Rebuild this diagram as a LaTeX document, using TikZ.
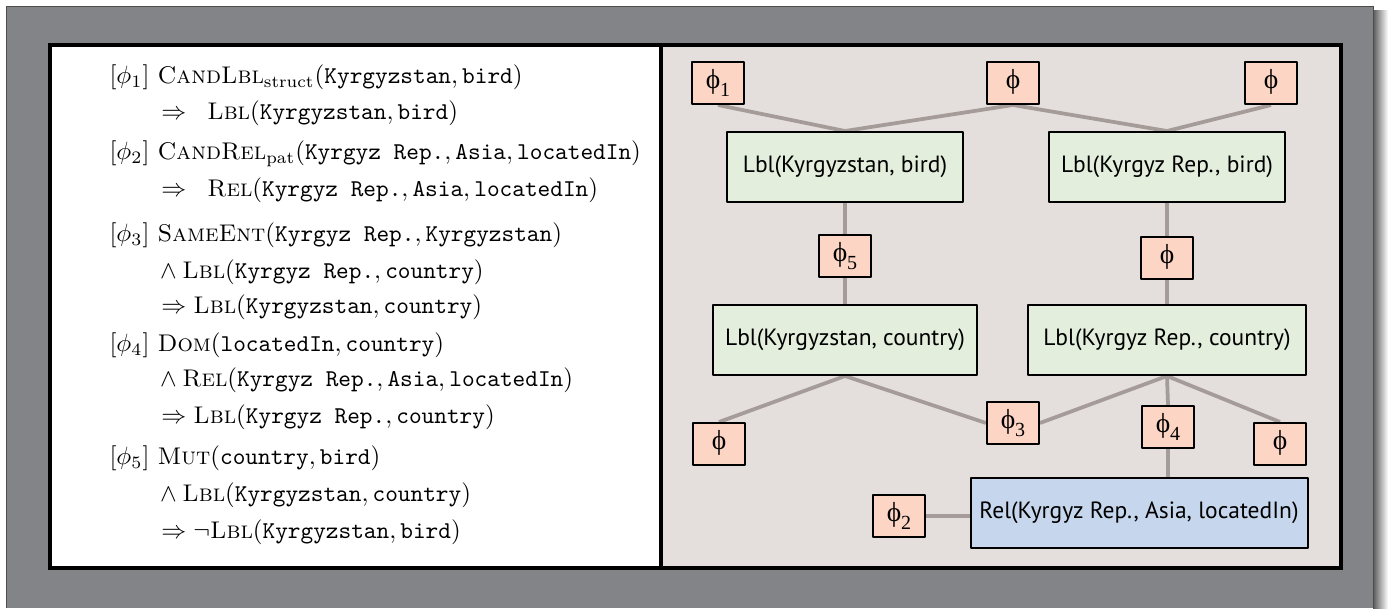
\documentclass[tikz,border=0pt]{standalone}
\usepackage{fontspec}
\usetikzlibrary{backgrounds}
\newfontfamily\boxfont{PT Sans}
\newfontfamily\phifont{Liberation Serif}
\definecolor{bgray}{HTML}{838488}
\definecolor{panel}{HTML}{E4DFDC}
\definecolor{facfill}{HTML}{FDD5C4}
\definecolor{lblfill}{HTML}{E3EEDC}
\definecolor{relfill}{HTML}{C6D6EC}
\definecolor{connc}{HTML}{A59B98}
\newcommand{\fac}[1]{ϕ\raisebox{-0.3em}{\fontsize{8}{8}\selectfont #1}}
\begin{document}
\begin{tikzpicture}[x=0.4pt, y=-0.4pt, line join=round,
		factor/.style={draw, line width=0.8pt, fill=facfill, minimum width=20.8pt, minimum height=16.8pt, inner sep=0pt, font=\phifont\fontsize{11}{12}\selectfont},
		lblnode/.style={draw, line width=0.8pt, fill=lblfill, minimum height=28pt, inner sep=0pt, font=\boxfont\fontsize{9.4}{11}\selectfont},
		relnode/.style={lblnode, fill=relfill},
		conn/.style={connc, line width=1.5pt},
		formula/.style={anchor=west, inner sep=0pt, font=\fontsize{9.65}{11.6}\selectfont}]
	\useasboundingbox (0,0) rectangle (1388,608);
	\begin{scope}[on background layer]
		% backdrop and panels
		\fill[white] (0,0) rectangle (1388,608);
		\shade[left color=black!65, right color=white] (1373,10) rectangle (1388,608);
		\fill[bgray] (6,6) rectangle (1373,608);
		\draw[black!70, line width=0.4pt] (6,608) -- (6,6) -- (1373,6) -- (1373,608);
		\fill[white] (50,45) rectangle (661,568);
		\fill[panel] (661,45) rectangle (1341,568);
		\draw[line width=1.6pt] (50,45) rectangle (1341,568);
		\draw[line width=1.6pt] (661,45) -- (661,568);
	\end{scope}
	% formulas
	\node[formula] (f1a) at (109,77) {$[\phi_1]\ \textsc{CandLbl}_{\mathrm{struct}}(\texttt{Kyrgyzstan},\texttt{bird})$};
	\node[formula] (f1b) at (154,113) {${}\Rightarrow\;\;\textsc{Lbl}(\texttt{Kyrgyzstan},\texttt{bird})$};
	\node[formula] (f2a) at (109,154) {$[\phi_2]\ \textsc{CandRel}_{\mathrm{pat}}(\texttt{Kyrgyz Rep.},\texttt{Asia},\texttt{locatedIn})$};
	\node[formula] (f2b) at (154,190) {${}\Rightarrow\;\;\textsc{Rel}(\texttt{Kyrgyz Rep.},\texttt{Asia},\texttt{locatedIn})$};
	\node[formula] (f3a) at (109,235) {$[\phi_3]\ \textsc{SameEnt}(\texttt{Kyrgyz Rep.},\texttt{Kyrgyzstan})$};
	\node[formula] (f3b) at (154,272) {${}\wedge\textsc{Lbl}(\texttt{Kyrgyz Rep.},\texttt{country})$};
	\node[formula] (f3c) at (154,307) {${}\Rightarrow\textsc{Lbl}(\texttt{Kyrgyzstan},\texttt{country})$};
	\node[formula] (f4a) at (109,345) {$[\phi_4]\ \textsc{Dom}(\texttt{locatedIn},\texttt{country})$};
	\node[formula] (f4b) at (154,380) {${}\wedge\textsc{Rel}(\texttt{Kyrgyz Rep.},\texttt{Asia},\texttt{locatedIn})$};
	\node[formula] (f4c) at (154,417) {${}\Rightarrow\textsc{Lbl}(\texttt{Kyrgyz Rep.},\texttt{country})$};
	\node[formula] (f5a) at (109,458) {$[\phi_5]\ \textsc{Mut}(\texttt{country},\texttt{bird})$};
	\node[formula] (f5b) at (154,495) {${}\wedge\textsc{Lbl}(\texttt{Kyrgyzstan},\texttt{country})$};
	\node[formula] (f5c) at (154,532) {${}\Rightarrow\neg\textsc{Lbl}(\texttt{Kyrgyzstan},\texttt{bird})$};
	% factor graph
	\node[factor] (p1) at (718,83) {\fac{1}};
	\node[factor] (pm) at (1013,83) {\fac{}};
	\node[factor] (pr) at (1271,83) {\fac{}};
	\node[lblnode, minimum width=94.4pt] (lkb) at (845,167) {Lbl(Kyrgyzstan, bird)};
	\node[lblnode, minimum width=94.4pt] (lrb) at (1167,167) {Lbl(Kyrgyz Rep., bird)};
	\node[factor] (p5) at (845,256) {\fac{5}};
	\node[factor] (pq) at (1167,258) {\fac{}};
	\node[lblnode, minimum width=105.6pt] (lkc) at (845,340) {Lbl(Kyrgyzstan, country)};
	\node[lblnode, minimum width=111.2pt] (lrc) at (1167,340) {Lbl(Kyrgyz Rep., country)};
	\node[factor] (pa) at (719,444) {\fac{}};
	\node[factor] (p3) at (1013,423) {\fac{3}};
	\node[factor] (p4) at (1168,427) {\fac{4}};
	\node[factor] (pb) at (1280,444) {\fac{}};
	\node[relnode, minimum width=134.8pt] (rel) at (1139,513) {Rel(Kyrgyz Rep., Asia, locatedIn)};
	\node[factor] (p2) at (899,516) {\fac{2}};
	\begin{scope}[on background layer]
		\draw[conn] (p1.south) -- (lkb.north);
		\draw[conn] (pm.south) -- (lkb.north);
		\draw[conn] (pm.south) -- (lrb.north);
		\draw[conn] (pr.south) -- (lrb.north);
		\draw[conn] (lkb) -- (p5) -- (lkc);
		\draw[conn] (lrb) -- (pq) -- (lrc);
		\draw[conn] (lkc.south) -- (pa.north);
		\draw[conn] (lkc.south) -- (p3.west);
		\draw[conn] (lrc.south) -- (p3.east);
		\draw[conn] (lrc.south) -- (p4.north);
		\draw[conn] (lrc.south) -- (pb.north);
		\draw[conn] (p4.south) -- (p4.south |- rel.north);
		\draw[conn] (p2.east) -- (p2.east -| rel.west);
	\end{scope}
\end{tikzpicture}
\end{document}
